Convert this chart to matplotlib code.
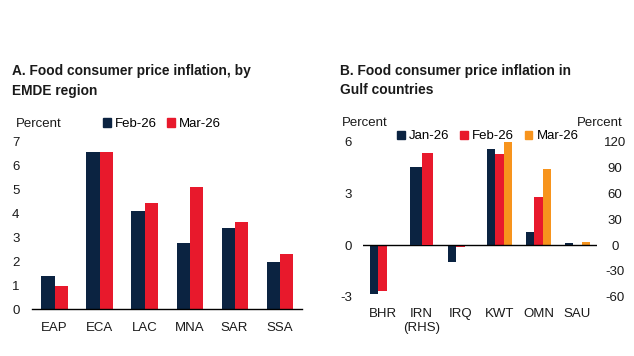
import matplotlib
matplotlib.use("Agg")
import matplotlib.pyplot as plt
from matplotlib import font_manager
import numpy as np
from matplotlib.patches import Patch

plt.rcParams['font.family'] = ['Liberation Sans', 'DejaVu Sans']
plt.rcParams['axes.unicode_minus'] = False

names = {f.name for f in font_manager.fontManager.ttflist}
if 'Liberation Sans Narrow' in names:
    TITLE_FAMILY = ['Liberation Sans Narrow', 'Liberation Sans']
    TITLE_SIZE = 12
else:
    TITLE_FAMILY = ['Liberation Sans', 'DejaVu Sans']
    TITLE_SIZE = 9.9

NAVY = '#0b2341'
RED = '#e8192c'
ORANGE = '#f7941d'

# Panel A
regions = ['EAP', 'ECA', 'LAC', 'MNA', 'SAR', 'SSA']
a_feb = [1.39, 6.55, 4.10, 2.77, 3.38, 1.95]
a_mar = [0.96, 6.55, 4.45, 5.12, 3.64, 2.29]

# Panel B
gulf = ['BHR', 'IRN\n(RHS)', 'IRQ', 'KWT', 'OMN', 'SAU']
b_jan = [-2.86, None, -1.00, 5.59, 0.77, 0.10]
b_feb = [-2.69, None, -0.10, 5.28, 2.77, None]
b_mar = [None, None, None, 6.00, 4.41, 0.19]
irn_jan_rhs = 90.6
irn_feb_rhs = 107.2

fig = plt.figure(figsize=(6.34, 3.56), dpi=100)
TXT = '#1a1a1a'

# ---- Panel A ----
axA = fig.add_axes([0.0505, 0.132, 0.426, 0.470])
x = np.arange(len(regions))
w = 0.29
axA.bar(x - w / 2, a_feb, w, color=NAVY)
axA.bar(x + w / 2, a_mar, w, color=RED)
axA.set_xlim(-0.5, 5.5)
axA.set_ylim(0, 7)
axA.set_yticks(range(0, 8))
axA.set_xticks(x)
axA.set_xticklabels(regions)
for s in ['top', 'right', 'left']:
    axA.spines[s].set_visible(False)
axA.spines['bottom'].set_color('black')
axA.spines['bottom'].set_linewidth(1.0)
axA.tick_params(axis='both', length=0, labelsize=9.5, colors=TXT)
axA.tick_params(axis='y', pad=9)
axA.tick_params(axis='x', pad=9.5)
fig.text(16 / 634, 1 - 124 / 356, 'Percent', fontsize=9.5, ha='left', va='center', color=TXT)
axA.legend(handles=[Patch(color=NAVY, label='Feb-26'), Patch(color=RED, label='Mar-26')],
           loc='lower left', bbox_to_anchor=(0.262, 1.07), ncol=2, frameon=False,
           fontsize=9.5, handlelength=0.6, handleheight=0.6, handletextpad=0.3,
           columnspacing=0.8, borderaxespad=0, borderpad=0)

fig.text(12 / 634, 1 - 64 / 356, 'A. Food consumer price inflation, by\nEMDE region',
         fontsize=TITLE_SIZE, fontweight='bold', ha='left', va='top', linespacing=1.5,
         family=TITLE_FAMILY, color=TXT)

# ---- Panel B ----
axB = fig.add_axes([0.5726, 0.1666, 0.369, 0.4354])
axR = axB.twinx()
xb = np.arange(len(gulf))
wb = 0.22
for vals, off, col in [(b_jan, -wb, NAVY), (b_feb, 0.0, RED), (b_mar, wb, ORANGE)]:
    xs = [xi + off for xi, v in zip(xb, vals) if v is not None]
    vs = [v for v in vals if v is not None]
    axB.bar(xs, vs, wb, color=col)
wi = 0.29
axR.bar([1 - wi / 2], [irn_jan_rhs], wi, color=NAVY)
axR.bar([1 + wi / 2], [irn_feb_rhs], wi, color=RED)
axB.set_xlim(-0.5, 5.5)
axB.set_ylim(-3, 6)
axR.set_ylim(-60, 120)
axB.set_yticks([-3, 0, 3, 6])
axR.set_yticks(range(-60, 121, 30))
axB.set_xticks(xb)
axB.set_xticklabels(gulf)
axB.axhline(0, color='black', lw=1.0, zorder=5)
for a in (axB, axR):
    for s in a.spines.values():
        s.set_visible(False)
    a.tick_params(axis='both', length=0, labelsize=9.5, colors=TXT)
axB.tick_params(axis='y', pad=8)
axB.tick_params(axis='x', pad=8)
axR.tick_params(axis='y', pad=13)
for lbl in axR.get_yticklabels():
    lbl.set_ha('center')
fig.text(342 / 634, 1 - 123 / 356, 'Percent', fontsize=9.5, ha='left', va='center', color=TXT)
fig.text(623 / 634, 1 - 123 / 356, 'Percent', fontsize=9.5, ha='right', va='center', color=TXT)
axB.legend(handles=[Patch(color=NAVY, label='Jan-26'), Patch(color=RED, label='Feb-26'),
                    Patch(color=ORANGE, label='Mar-26')],
           loc='lower left', bbox_to_anchor=(0.146, 0.995), ncol=3, frameon=False,
           fontsize=9.5, handlelength=0.6, handleheight=0.6, handletextpad=0.3,
           columnspacing=0.8, borderaxespad=0, borderpad=0)

fig.text(340 / 634, 1 - 64 / 356, 'B. Food consumer price inflation in\nGulf countries',
         fontsize=TITLE_SIZE, fontweight='bold', ha='left', va='top', linespacing=1.5,
         family=TITLE_FAMILY, color=TXT)

fig.savefig('out.png', dpi=100)
